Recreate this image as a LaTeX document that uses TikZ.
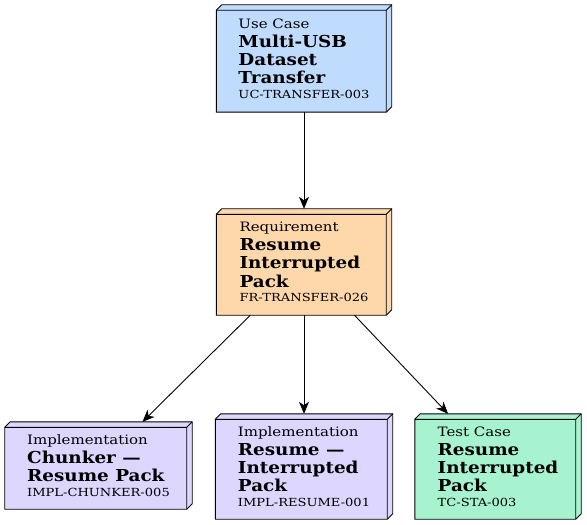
\documentclass[tikz,border=0pt]{standalone}
\usepackage{fontspec}
\usepackage{graphicx}
\setmainfont{DejaVu Serif}
\usetikzlibrary{arrows.meta,backgrounds}
\definecolor{ucblue}{HTML}{BFDBFE}
\definecolor{reqorange}{HTML}{FED7AA}
\definecolor{implviolet}{HTML}{DDD6FE}
\definecolor{testgreen}{HTML}{A7F3D0}
\newlength\calibw
\newcommand\kindfont{\fontsize{13}{15}\selectfont\mdseries}
\newcommand\titlefont{\fontsize{16.5}{18.3}\selectfont\bfseries}
\newcommand\idfont{\fontsize{11.2}{13}\selectfont\mdseries}
\newcommand\nkind[1]{{\kindfont\scalebox{\kindsx}[1]{#1}}}
\newcommand\ntitle[1]{{\titlefont\scalebox{\titlesx}[1]{#1}}}
\newcommand\nident[1]{{\idfont\scalebox{\idsx}[1]{#1}}}
\newcommand\boxface[2]{%
  \path[draw=black,line width=0.9bp,fill=#2,line join=miter]
    ([yshift=-5.5bp]#1.north west) -- ([xshift=5.5bp]#1.north west) -- (#1.north east)
    -- ([yshift=5.5bp]#1.south east) -- ([xshift=-5.5bp]#1.south east) -- (#1.south west) -- cycle;
  \draw[line width=0.9bp,line join=miter]
    ([yshift=-5.5bp]#1.north west) -- ([xshift=-5.5bp,yshift=-5.5bp]#1.north east) -- (#1.north east)
    ([xshift=-5.5bp,yshift=-5.5bp]#1.north east) -- ([xshift=-5.5bp]#1.south east);}
\tikzset{
  box3d/.style={rectangle, draw=none, inner sep=0pt, align=left,
    font=\titlefont},
  conn/.style={line width=0.9bp, -{Stealth[length=12bp,width=10bp,inset=3.5bp]}}
}
\begin{document}
\settowidth\calibw{\kindfont Use Case}\pgfmathsetmacro\kindsx{71.27/\calibw}\global\let\kindsx\kindsx
\settowidth\calibw{\titlefont Multi-USB}\pgfmathsetmacro\titlesx{108.9/\calibw}\global\let\titlesx\titlesx
\settowidth\calibw{\idfont UC-TRANSFER-003}\pgfmathsetmacro\idsx{131.5/\calibw}\global\let\idsx\idsx
\begin{tikzpicture}[x=1bp,y=-1bp]
\useasboundingbox (0,0) rectangle (587,525);
\node[box3d, minimum width=175bp, minimum height=107bp] (uc) at (304,58.5)
  {\nkind{Use Case}\\[0.7bp]\ntitle{Multi-USB}\\\ntitle{Dataset}\\\ntitle{Transfer}\\[-3.9bp]\nident{UC-TRANSFER-003}};
\node[box3d, minimum width=175bp, minimum height=106bp] (req) at (304,262)
  {\nkind{Requirement}\\[0.7bp]\ntitle{Resume}\\\ntitle{Interrupted}\\\ntitle{Pack}\\[-3.9bp]\nident{FR-TRANSFER-026}};
\node[box3d, minimum width=187bp, minimum height=87bp] (chunk) at (98.5,465.5)
  {\nkind{Implementation}\\[0.7bp]\ntitle{Chunker —}\\\ntitle{Resume Pack}\\[-3.9bp]\nident{IMPL-CHUNKER-005}};
\node[box3d, minimum width=177bp, minimum height=105bp] (resume) at (304,466.5)
  {\nkind{Implementation}\\[0.7bp]\ntitle{Resume —}\\\ntitle{Interrupted}\\\ntitle{Pack}\\[-3.9bp]\nident{IMPL-RESUME-001}};
\node[box3d, minimum width=166bp, minimum height=105bp] (test) at (498,466.5)
  {\nkind{Test Case}\\[0.7bp]\ntitle{Resume}\\\ntitle{Interrupted}\\\ntitle{Pack}\\[-3.9bp]\nident{TC-STA-003}};
\begin{scope}[on background layer]
  \boxface{uc}{ucblue}
  \boxface{req}{reqorange}
  \boxface{chunk}{implviolet}
  \boxface{resume}{implviolet}
  \boxface{test}{testgreen}
\end{scope}
\draw[conn] (uc) -- (req);
\draw[conn] (req) -- (chunk);
\draw[conn] (req) -- (resume);
\draw[conn] (req) -- (test);
\end{tikzpicture}
\end{document}
